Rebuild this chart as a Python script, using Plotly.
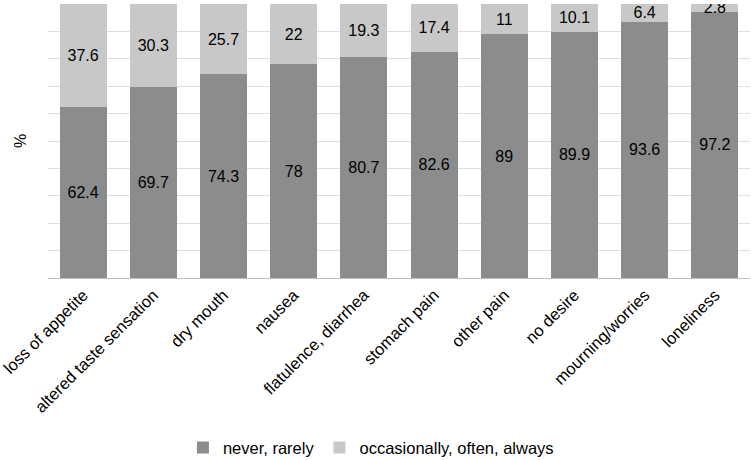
import plotly.graph_objects as go

categories = ["loss of appetite", "altered taste sensation", "dry mouth", "nausea",
              "flatulence, diarrhea", "stomach pain", "other pain", "no desire",
              "mourning/worries", "loneliness"]
never_rarely = [62.4, 69.7, 74.3, 78, 80.7, 82.6, 89, 89.9, 93.6, 97.2]
occasionally = [37.6, 30.3, 25.7, 22, 19.3, 17.4, 11, 10.1, 6.4, 2.8]

FONT = "Liberation Sans, Arial"

fig = go.Figure()
fig.add_trace(go.Bar(
    x=categories, y=never_rarely, name="never, rarely",
    marker=dict(color="#8c8c8c", line=dict(width=0)),
    text=[f"{v:g}" for v in never_rarely], textposition="inside",
    insidetextanchor="middle", constraintext="none",
    textfont=dict(color="#000000", size=16, family=FONT),
))
fig.add_trace(go.Bar(
    x=categories, y=occasionally, name="occasionally, often, always",
    marker=dict(color="#c8c8c8", line=dict(width=0)),
    text=[f"{v:g}" for v in occasionally], textposition="inside",
    insidetextanchor="middle", constraintext="none",
    textfont=dict(color="#000000", size=16, family=FONT),
))

fig.update_layout(
    barmode="stack",
    bargap=0.33,
    width=751, height=460,
    margin=dict(l=48, r=1, t=4, b=182, autoexpand=False),
    paper_bgcolor="white", plot_bgcolor="white",
    font=dict(family=FONT, color="#000000", size=16),
    showlegend=True,
    legend=dict(orientation="h", x=0.46, xanchor="center", y=-0.62, yanchor="middle",
                font=dict(size=16.5, color="#000000"), traceorder="normal",
                itemwidth=30, tracegroupgap=0),
    uniformtext=dict(mode=False),
)
fig.update_xaxes(
    tickangle=-45, showgrid=False, showline=True, linecolor="#bfbfbf", linewidth=1,
    ticks="", tickfont=dict(size=16.5, color="#000000"), automargin=False,
)
fig.update_yaxes(
    range=[0, 100], dtick=10, showgrid=True, gridcolor="#dedede", gridwidth=1,
    showticklabels=False, zeroline=False, showline=False, automargin=False,
    title=dict(text="%", font=dict(size=16, color="#000000"), standoff=16),
)

fig.write_html("out.html",
               config={"displayModeBar": False},
               post_script="document.body.style.margin='0';document.body.style.overflow='hidden';")
